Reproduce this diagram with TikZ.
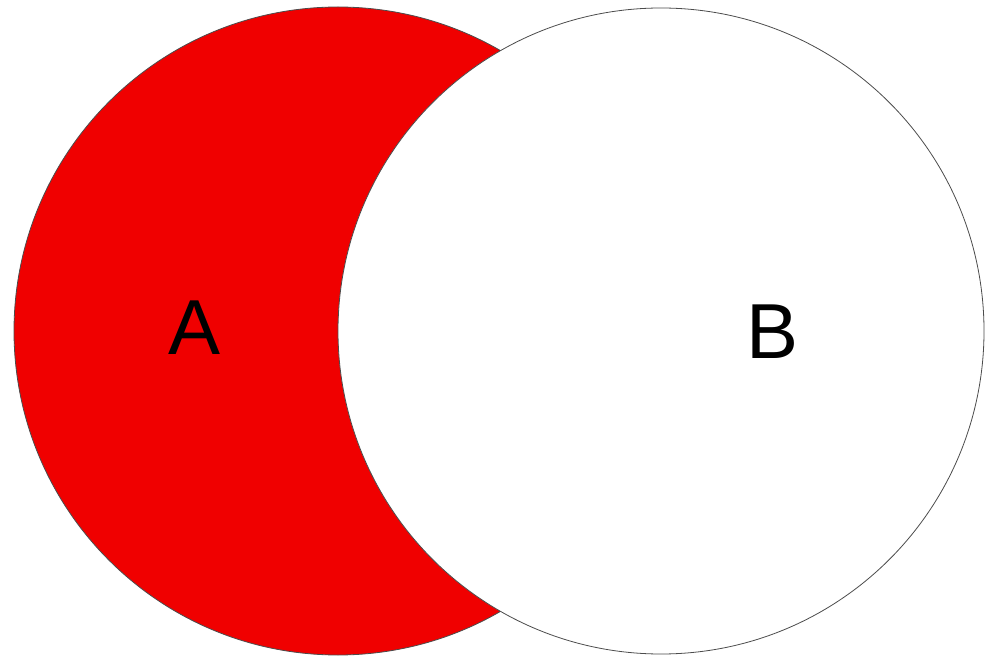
\documentclass[tikz,border=0pt]{standalone}
\usepackage{fontspec}
\setmainfont{Liberation Sans}
\definecolor{setred}{RGB}{240,0,0}
\begin{document}
\begin{tikzpicture}[x=1pt,y=1pt,
  setcircle/.style={draw=black!70, line width=0.8pt},
  setlabel/.style={font=\fontsize{78}{80}\selectfont, inner sep=0pt}]
\useasboundingbox (0,0) rectangle (992,656);
\fill[white] (0,0) rectangle (992,656);
\node[setcircle, circle, fill=setred, minimum size=648pt, inner sep=0pt] (cA) at (338,325) {};
\node[setcircle, circle, fill=white, minimum size=646pt, inner sep=0pt] (cB) at (661,325) {};
\node[setlabel] (lA) at (195,328) {A};
\node[setlabel] (lB) at (773,324) {B};
\end{tikzpicture}
\end{document}
